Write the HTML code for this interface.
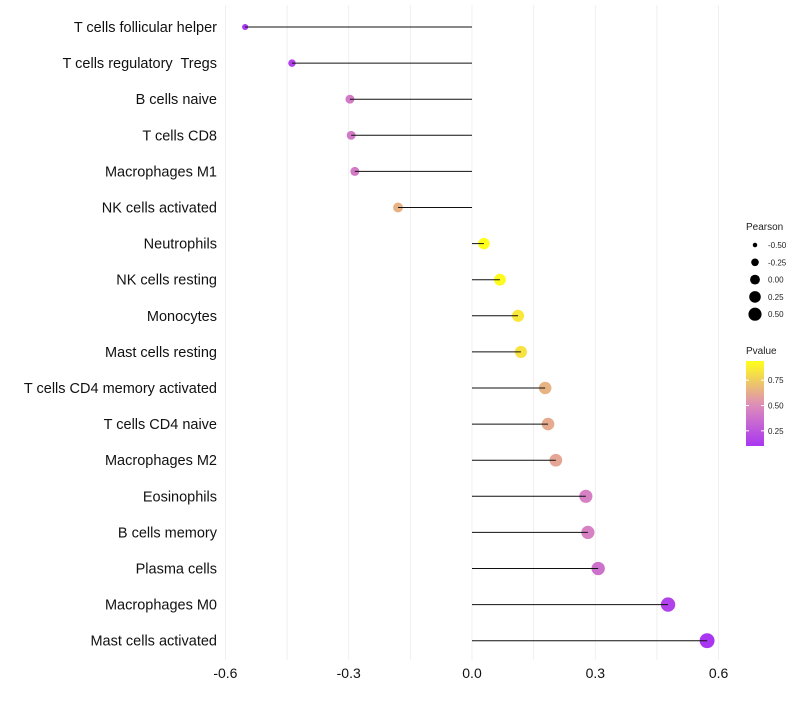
<!DOCTYPE html>
<html><head><meta charset="utf-8"><style>
body{margin:0;background:#fff;font-family:"Liberation Sans",sans-serif}
</style></head><body>
<svg id="chart" width="800" height="700" xmlns="http://www.w3.org/2000/svg" font-family="Liberation Sans, sans-serif"></svg>
<script>
const categories=["T cells follicular helper","T cells regulatory  Tregs","B cells naive","T cells CD8","Macrophages M1","NK cells activated","Neutrophils","NK cells resting","Monocytes","Mast cells resting","T cells CD4 memory activated","T cells CD4 naive","Macrophages M2","Eosinophils","B cells memory","Plasma cells","Macrophages M0","Mast cells activated"];
const pearson=[-0.552,-0.438,-0.297,-0.294,-0.285,-0.18,0.029,0.068,0.112,0.119,0.178,0.185,0.204,0.277,0.282,0.307,0.477,0.572];
const pvalue=[0.05,0.15,0.42,0.42,0.42,0.65,0.98,0.93,0.85,0.83,0.65,0.62,0.6,0.45,0.45,0.38,0.15,0.06];
const xTicks=[-0.6,-0.3,0,0.3,0.6];
const xTickLabels=["-0.6","-0.3","0.0","0.3","0.6"];
const sizeLegend=[-0.5,-0.25,0,0.25,0.5];
const sizeLegendLabels=["-0.50","-0.25","0.00","0.25","0.50"];
const colorTicks=[0.75,0.5,0.25];
const colorTickLabels=["0.75","0.50","0.25"];

const svg=document.getElementById('chart');
const NS="http://www.w3.org/2000/svg";
function mk(t,a,p){const e=document.createElementNS(NS,t);for(const k in a)e.setAttribute(k,a[k]);(p||svg).appendChild(e);return e;}
const x=v=>472+v*411;
const y=i=>27+i*36.1;
const r=v=>Math.sqrt(Math.max(4,32+41*v));
const rl=v=>Math.sqrt(Math.max(3,24+38*v));
function col(p){
  const stops=[[0.1,[160,32,240]],[0.5,[217,127,180]],[0.94,[255,255,0]]];
  if(p<=stops[0][0])return 'rgb('+stops[0][1]+')';
  if(p>=stops[2][0])return 'rgb('+stops[2][1]+')';
  const k=p<0.5?0:1;const a=stops[k],b=stops[k+1];const t=(p-a[0])/(b[0]-a[0]);
  return 'rgb('+a[1].map((c,j)=>Math.round(c+(b[1][j]-c)*t)).join(',')+')';
}
const grid=mk('g',{});


for(let v=-0.6;v<=0.61;v+=0.15){mk('line',{x1:x(v),x2:x(v),y1:5,y2:660,stroke:'#ececec','stroke-width':0.8},grid);}
xTicks.forEach((v,i)=>{const t=mk('text',{x:x(v),y:678,'text-anchor':'middle','font-size':14,fill:'#111'});t.textContent=xTickLabels[i];

});
categories.forEach((c,i)=>{
  const t=mk('text',{x:217,y:y(i)+5,'text-anchor':'end','font-size':14.5,fill:'#111'});t.textContent=c;
  t.style.whiteSpace='pre';
  
  
  const d=mk('circle',{cx:x(pearson[i]),cy:y(i),r:r(pearson[i]),fill:col(pvalue[i]),'fill-opacity':0.9});
  
  
  const l=mk('line',{x1:x(0),x2:x(pearson[i]),y1:y(i),y2:y(i),stroke:'#111','stroke-width':1});
  
  
});
const lt=mk('text',{x:746,y:230,'font-size':10,fill:'#222'});lt.textContent='Pearson';


sizeLegend.forEach((v,i)=>{const cy=245+i*17.3;
  const c=mk('circle',{cx:755,cy:cy,r:rl(v),fill:'#000'});
  
  
  const t=mk('text',{x:768,y:cy+3,'font-size':8,fill:'#222'});t.textContent=sizeLegendLabels[i];
  
  });
const ct=mk('text',{x:746,y:354,'font-size':10,fill:'#222'});ct.textContent='Pvalue';


const defs=mk('defs',{});const g=mk('linearGradient',{id:'pg',x1:0,y1:1,x2:0,y2:0},defs);
for(let k=0;k<=10;k++){const p=0.1+k*0.084;mk('stop',{offset:k/10,'stop-color':col(p)},g);}
const bar=mk('rect',{x:746,y:361,width:18,height:85,fill:'url(#pg)','fill-opacity':0.9});


colorTicks.forEach((v,i)=>{const cy=446-(v-0.1)/0.84*85;
  mk('line',{x1:746,x2:749,y1:cy,y2:cy,stroke:'#fff'});mk('line',{x1:761,x2:764,y1:cy,y2:cy,stroke:'#fff'});
  const t=mk('text',{x:768,y:cy+3,'font-size':8,fill:'#222'});t.textContent=colorTickLabels[i];
  
  });
</script>
</body></html>
